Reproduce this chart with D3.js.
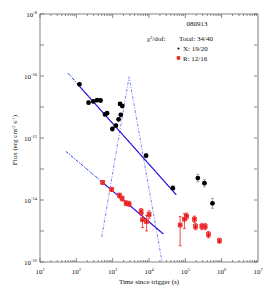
<!DOCTYPE html>
<html>
<head>
<meta charset="utf-8">
<script src="https://cdn.jsdelivr.net/npm/d3@7"></script>
<style>
  body { margin: 0; background: #fff; }
  text { font-family: "Liberation Serif", "DejaVu Serif", serif; fill: #111; }
</style>
</head>
<body>
<div id="chart"></div>
<script>
// X-ray points (black)
var xTime = [122, 217, 294, 372, 465, 618, 701, 982, 1225, 1455, 1671, 1600, 1837, 8318, 45300, 221000, 336000, 558000];
var xFlux = [5.4e-11, 1.38e-11, 1.51e-11, 1.66e-11, 1.62e-11, 5.75e-12, 6.3e-12, 1.95e-12, 2.5e-12, 4.0e-12, 5.6e-12, 1.26e-11, 1.07e-11, 2.7e-13, 2.4e-14, 5.1e-14, 3.5e-14, 7.8e-15];
var xErrDex = [0.05, 0.05, 0.05, 0.05, 0.05, 0.05, 0.05, 0.06, 0.05, 0.05, 0.05, 0.05, 0.05, 0.07, 0.08, 0.12, 0.12, 0.16];

// R-band points (red)
var rTime = [533, 944, 1549, 1816, 2339, 2831, 6054, 6668, 8590, 10070, 71900, 94400, 108700, 178000, 192000, 285000, 351000, 433000, 869000];
var rFlux = [3.66e-14, 2.17e-14, 1.39e-14, 1.11e-14, 7.9e-15, 7.5e-15, 4.2e-15, 2.3e-15, 2.0e-15, 3.37e-15, 1.56e-15, 2.41e-15, 3.0e-15, 2.4e-15, 1.38e-15, 1.41e-15, 1.38e-15, 7.6e-16, 4.85e-16];
var rErrLo = [0.06, 0.06, 0.08, 0.08, 0.08, 0.08, 0.1, 0.25, 0.3, 0.12, 0.67, 0.3, 0.1, 0.1, 0.1, 0.1, 0.1, 0.1, 0.08];
var rErrHi = [0.06, 0.06, 0.08, 0.08, 0.08, 0.08, 0.1, 0.2, 0.2, 0.12, 0.27, 0.18, 0.1, 0.1, 0.1, 0.1, 0.1, 0.1, 0.08];

// model curves
var xFitComp = [[59, 1.23e-10], [55800, 1.5e-14]];
var xFitTotal = [[111, 5.3e-11], [55800, 1.5e-14]];
var rFitComp = [[52, 3.68e-13], [24900, 8.0e-16]];
var rFitTotal = [[450, 4.3e-14], [24900, 8.0e-16]];
var flare = [[501, 6.5e-16], [2831, 9.4e-11], [23400, 8.7e-17]];

var xTicks = [1e1, 1e2, 1e3, 1e4, 1e5, 1e6, 1e7];
var yTicks = [1e-8, 1e-9, 1e-10, 1e-11, 1e-12, 1e-13, 1e-14, 1e-15, 1e-16];
var yLabelled = [1e-8, 1e-10, 1e-12, 1e-14, 1e-16];

var legendTitle = '080913';
var legendChi = 'Total: 34/40';
var legendX = 'X: 19/20';
var legendR = 'R: 12/16';

(function() {
  var W = 270, H = 291;
  var pl = 40, pr = 258, pt = 14, pb = 262;

  var svg = d3.select('#chart').append('svg')
    .attr('width', W).attr('height', H);

  var x = d3.scaleLog().domain([1e1, 1e7]).range([pl, pr]);
  var y = d3.scaleLog().domain([1e-16, 1e-8]).range([pb, pt]);

  svg.append('clipPath').attr('id', 'clip')
    .append('rect').attr('x', pl).attr('y', pt)
    .attr('width', pr - pl).attr('height', pb - pt);

  // ticks
  var minor = [];
  xTicks.slice(0, -1).forEach(function(d) {
    for (var k = 2; k < 10; k++) minor.push(d * k);
  });

  var tickG = svg.append('g').attr('stroke', '#555').attr('stroke-width', 0.7);
  xTicks.forEach(function(d) {
    tickG.append('line').attr('x1', x(d)).attr('x2', x(d)).attr('y1', pb).attr('y2', pb - 4);
    tickG.append('line').attr('x1', x(d)).attr('x2', x(d)).attr('y1', pt).attr('y2', pt + 4);
  });
  minor.forEach(function(d) {
    tickG.append('line').attr('x1', x(d)).attr('x2', x(d)).attr('y1', pb).attr('y2', pb - 2);
    tickG.append('line').attr('x1', x(d)).attr('x2', x(d)).attr('y1', pt).attr('y2', pt + 2);
  });
  yTicks.forEach(function(d) {
    tickG.append('line').attr('x1', pl).attr('x2', pl + 4).attr('y1', y(d)).attr('y2', y(d));
    tickG.append('line').attr('x1', pr).attr('x2', pr - 4).attr('y1', y(d)).attr('y2', y(d));
  });

  // frame
  svg.append('rect').attr('x', pl).attr('y', pt)
    .attr('width', pr - pl).attr('height', pb - pt)
    .attr('fill', 'none').attr('stroke', '#666').attr('stroke-width', 0.8);
  svg.append('line').attr('x1', pr).attr('x2', pr).attr('y1', pt).attr('y2', pb)
    .attr('stroke', '#bbb').attr('stroke-width', 2);

  // tick labels
  function powLabel(sel, e) {
    sel.append('tspan').text('10');
    sel.append('tspan').attr('dy', -3).attr('font-size', 4.5).text(e);
  }
  xTicks.forEach(function(d) {
    var t = svg.append('text').attr('x', x(d)).attr('y', 274)
      .attr('text-anchor', 'middle').attr('font-size', 7);
    powLabel(t, Math.round(Math.log10(d)));
  });
  yLabelled.forEach(function(d) {
    var t = svg.append('text').attr('x', 37).attr('y', y(d) + 2.5)
      .attr('text-anchor', 'end').attr('font-size', 7);
    powLabel(t, Math.round(Math.log10(d)));
  });

  // axis titles
  svg.append('text').attr('x', 149).attr('y', 284).attr('text-anchor', 'middle')
    .attr('font-size', 7).text('Time since trigger (s)');
  var yt = svg.append('text').attr('transform', 'translate(17,140) rotate(-90)')
    .attr('text-anchor', 'middle').attr('font-size', 7);
  yt.append('tspan').text('Flux (erg cm');
  yt.append('tspan').attr('dy', -2.5).attr('font-size', 4.5).text('-2');
  yt.append('tspan').attr('dy', 2.5).text(' s');
  yt.append('tspan').attr('dy', -2.5).attr('font-size', 4.5).text('-1');
  yt.append('tspan').attr('dy', 2.5).text(')');

  // model lines
  var line = d3.line().x(function(d) { return x(d[0]); }).y(function(d) { return y(d[1]); });
  var lines = svg.append('g').attr('clip-path', 'url(#clip)').attr('fill', 'none');

  lines.append('path').datum(flare).attr('d', line)
    .attr('stroke', '#5566ff').attr('stroke-width', 0.8).attr('stroke-dasharray', '3,1.5,1,1.5');
  [xFitComp, rFitComp].forEach(function(c) {
    lines.append('path').datum(c).attr('d', line)
      .attr('stroke', '#2233ff').attr('stroke-width', 1).attr('stroke-dasharray', '3,1.2,1,1.2');
  });
  [xFitTotal, rFitTotal].forEach(function(c) {
    lines.append('path').datum(c).attr('d', line)
      .attr('stroke', '#1a1aff').attr('stroke-width', 1.2);
    lines.append('path').datum(c).attr('d', line)
      .attr('stroke', '#ff2020').attr('stroke-width', 0.6).attr('stroke-dasharray', '1.5,2.5');
  });

  // error bars, X
  var xi = d3.range(xTime.length);
  var ex = svg.append('g').attr('stroke', '#888').attr('stroke-width', 0.7);
  xi.forEach(function(i) {
    var px = x(xTime[i]);
    var y1 = y(xFlux[i] * Math.pow(10, xErrDex[i])), y2 = y(xFlux[i] / Math.pow(10, xErrDex[i]));
    ex.append('line').attr('x1', px).attr('x2', px).attr('y1', y1).attr('y2', y2);
    ex.append('line').attr('x1', px - 1.5).attr('x2', px + 1.5).attr('y1', y1).attr('y2', y1);
    ex.append('line').attr('x1', px - 1.5).attr('x2', px + 1.5).attr('y1', y2).attr('y2', y2);
  });
  svg.append('g').selectAll('circle').data(xi).join('circle')
    .attr('cx', function(i) { return x(xTime[i]); })
    .attr('cy', function(i) { return y(xFlux[i]); })
    .attr('r', 2.4).attr('fill', '#000');

  // error bars, R
  var ri = d3.range(rTime.length);
  var er = svg.append('g').attr('stroke', '#ee2222').attr('stroke-width', 0.8);
  ri.forEach(function(i) {
    var px = x(rTime[i]);
    var y1 = y(rFlux[i] * Math.pow(10, rErrHi[i])), y2 = y(rFlux[i] / Math.pow(10, rErrLo[i]));
    er.append('line').attr('x1', px).attr('x2', px).attr('y1', y1).attr('y2', y2);
    er.append('line').attr('x1', px - 1.5).attr('x2', px + 1.5).attr('y1', y1).attr('y2', y1);
    er.append('line').attr('x1', px - 1.5).attr('x2', px + 1.5).attr('y1', y2).attr('y2', y2);
  });
  var star = d3.symbol().type(d3.symbolAsterisk).size(14);
  var rg = svg.append('g');
  ri.forEach(function(i) {
    var g = rg.append('g').attr('transform', 'translate(' + x(rTime[i]) + ',' + y(rFlux[i]) + ')');
    g.append('rect').attr('x', -2).attr('y', -2).attr('width', 4).attr('height', 4)
      .attr('fill', '#ff8080').attr('stroke', '#ee2222').attr('stroke-width', 0.6);
    g.append('path').attr('d', star).attr('fill', 'none').attr('stroke', '#dd0000').attr('stroke-width', 0.8);
  });

  // legend
  svg.append('text').attr('x', 197).attr('y', 26).attr('text-anchor', 'middle')
    .attr('font-size', 7).text(legendTitle);
  var chi = svg.append('text').attr('x', 147).attr('y', 41).attr('font-size', 7);
  chi.append('tspan').text('\u03c7');
  chi.append('tspan').attr('dy', -2.5).attr('font-size', 4.5).text('2');
  chi.append('tspan').attr('dy', 2.5).text('/dof:');
  svg.append('text').attr('x', 179).attr('y', 41).attr('font-size', 7).text(legendChi);
  svg.append('circle').attr('cx', 178.5).attr('cy', 48.5).attr('r', 1).attr('fill', '#000');
  svg.append('text').attr('x', 183).attr('y', 51).attr('font-size', 7).text(legendX);
  var lg = svg.append('g').attr('transform', 'translate(178.5,58)');
  lg.append('rect').attr('x', -1.5).attr('y', -1.5).attr('width', 3).attr('height', 3)
    .attr('fill', '#ff8080').attr('stroke', '#ee2222').attr('stroke-width', 0.5);
  lg.append('path').attr('d', d3.symbol().type(d3.symbolAsterisk).size(8)).attr('fill', 'none')
    .attr('stroke', '#dd0000').attr('stroke-width', 0.6);
  svg.append('text').attr('x', 183).attr('y', 60.5).attr('font-size', 7).text(legendR);
})();
</script>
</body>
</html>
